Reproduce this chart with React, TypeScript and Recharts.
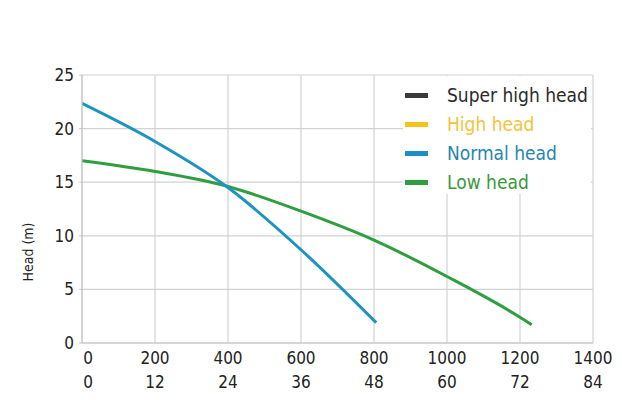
import { LineChart, Line, XAxis, YAxis, CartesianGrid, Legend, Label } from 'recharts';

// flow in L/min, head in m
const normalFlow = [0, 200, 400, 600, 806];
const normalHead = [22.35, 18.8, 14.5, 8.7, 1.9];
const lowFlow = [0, 200, 400, 600, 800, 1000, 1200, 1232];
const lowHead = [17.0, 16.0, 14.6, 12.3, 9.6, 6.2, 2.4, 1.7];

const xTicks = [0, 200, 400, 600, 800, 1000, 1200, 1400];
const xTicks2 = [0, 12, 24, 36, 48, 60, 72, 84];
const yTicks = [0, 5, 10, 15, 20, 25];

const legendNames = ['Super high head', 'High head', 'Normal head', 'Low head'];
const legendColors = ['#3a3a3a', '#f6c31c', '#1d8fc0', '#2f9e3f'];
const legendTextColors = ['#2a2a2a', '#f2c43a', '#1f86b4', '#3a983c'];

const normalData = normalFlow.map((f, i) => ({ flow: f, head: normalHead[i] }));
const lowData = lowFlow.map((f, i) => ({ flow: f, head: lowHead[i] }));

const FONT = '"DejaVu Sans Condensed", "Liberation Sans Narrow", sans-serif';

const XTick = (props: any) => {
  const { x, y, payload, index } = props;
  const isZero = payload.value === 0;
  return (
    <g>
      <text x={isZero ? x + 6 : x} y={y + 13} textAnchor="middle" fontSize={17} fill="#222" fontFamily={FONT}>
        {payload.value}
      </text>
      <text x={isZero ? x + 6 : x} y={y + 37} textAnchor="middle" fontSize={17} fill="#222" fontFamily={FONT}>
        {xTicks2[index]}
      </text>
    </g>
  );
};

const LegendBox = () => (
  <div style={{ background: '#fff', width: 188, height: 118, position: 'relative' }}>
    {legendNames.map((name, i) => (
      <div key={name} style={{ position: 'absolute', left: 0, top: 8 + i * 29, height: 22, display: 'flex', alignItems: 'center' }}>
        <div style={{ width: 23, height: 5, background: legendColors[i], marginLeft: 2 }} />
        <span style={{ marginLeft: 19, fontSize: 19, color: legendTextColors[i], fontFamily: FONT, whiteSpace: 'nowrap' }}>{name}</span>
      </div>
    ))}
  </div>
);

export default function App() {
  return (
    <div style={{ position: 'absolute', left: 0, top: 0, width: 622, height: 400, background: '#fff' }}>
      <LineChart width={622} height={400} margin={{ top: 75, right: 29, bottom: 0, left: 0 }}>
        <CartesianGrid stroke="#d2d2d2" strokeWidth={1.2} />
        <XAxis
          type="number"
          dataKey="flow"
          domain={[0, 1400]}
          ticks={xTicks}
          height={57}
          stroke="#c4c4c4"
          tickLine={false}
          tick={<XTick />}
          interval={0}
          allowDataOverflow
        />
        <YAxis
          type="number"
          domain={[0, 25]}
          ticks={yTicks}
          width={82}
          stroke="#c4c4c4"
          tickSize={3}
          tickMargin={5}
          tick={{ fontSize: 17, fill: '#222', fontFamily: FONT }}
          interval={0}
        >
          <Label
            content={() => (
              <text x={33} y={252} transform="rotate(-90 33 252)" textAnchor="middle" fontSize={14} fill="#222" fontFamily={FONT}>
                Head (m)
              </text>
            )}
          />
        </YAxis>
        <Line data={lowData} dataKey="head" type="monotone" stroke="#2f9e3f" strokeWidth={3} dot={false} isAnimationActive={false} />
        <Line data={normalData} dataKey="head" type="monotone" stroke="#1d93c2" strokeWidth={3} dot={false} isAnimationActive={false} />
        <Legend
          verticalAlign="middle"
          layout="horizontal"
          content={<LegendBox />}
          wrapperStyle={{ left: 403, top: 76, width: 188, height: 118 }}
        />
      </LineChart>
    </div>
  );
}
